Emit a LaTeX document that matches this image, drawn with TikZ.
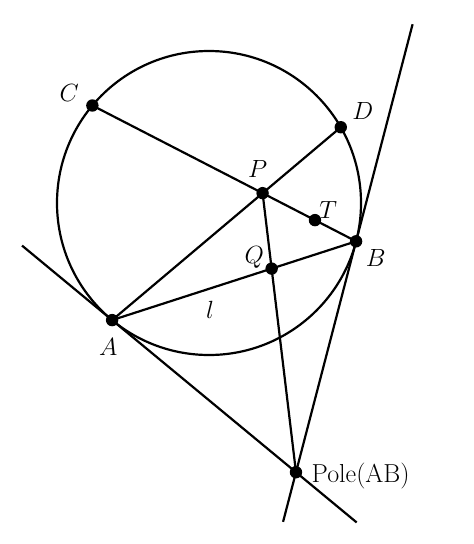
\documentclass[tikz,border=0pt]{standalone}
\usetikzlibrary{calc}
\begin{document}
\begin{tikzpicture}[x=1pt,y=-1pt,line width=2.2pt,
  dot/.style={circle,fill=black,inner sep=0pt,minimum size=12.4pt},
  lab/.style={inner sep=0pt,font=\fontsize{26}{30}\selectfont}]
\useasboundingbox (0,0) rectangle (474,544);
\coordinate (O) at (209,203);
\coordinate (A) at ($(O)+(129.6:152)$);
\coordinate (B) at ($(O)+(14.6:152)$);
\coordinate (C) at ($(O)+(-140.1:152)$);
\coordinate (D) at ($(O)+(-29.9:152)$);
\coordinate (A2) at ($(A)!1!90:(O)$);
\coordinate (B2) at ($(B)!1!90:(O)$);
\coordinate (Pole) at (intersection of A--A2 and B--B2);
\coordinate (P) at (intersection of A--D and C--B);
\coordinate (Q) at (intersection of A--B and P--Pole);
\coordinate (T) at ($(P)!0.56!(B)$);
\coordinate (ta1) at ($(Pole)!1.49!(A)$);
\coordinate (ta2) at ($(Pole)!-0.33!(A)$);
\coordinate (tb1) at ($(Pole)!1.94!(B)$);
\coordinate (tb2) at ($(Pole)!-0.215!(B)$);
% circle
\draw (O) circle[radius=152];
% chords
\draw (C) -- (B);
\draw (A) -- (D);
\draw (A) -- (B);
\draw (P) -- (Pole);
% tangents
\draw (ta1) -- (ta2);
\draw (tb1) -- (tb2);
% dots
\foreach \p in {A,B,C,D,P,Q,T,Pole} \node[dot] (d\p) at (\p) {};
% labels
\node[lab] (lC) at (69.3,92.9) {$C$};
\node[lab] (lD) at (362.7,110.9) {$D$};
\node[lab] (lP) at (257.7,169.2) {$P$};
\node[lab] (lT) at (328.3,209.8) {$T$};
\node[lab] (lB) at (375.7,258.3) {$B$};
\node[lab] (lQ) at (254.3,257.3) {$Q$};
\node[lab] (ll) at (210,310.3) {$l$};
\node[lab] (lA) at (108.3,346.7) {$A$};
\node[lab,anchor=west] (lPole) at (310.5,476) {Pole(AB)};
\end{tikzpicture}
\end{document}
